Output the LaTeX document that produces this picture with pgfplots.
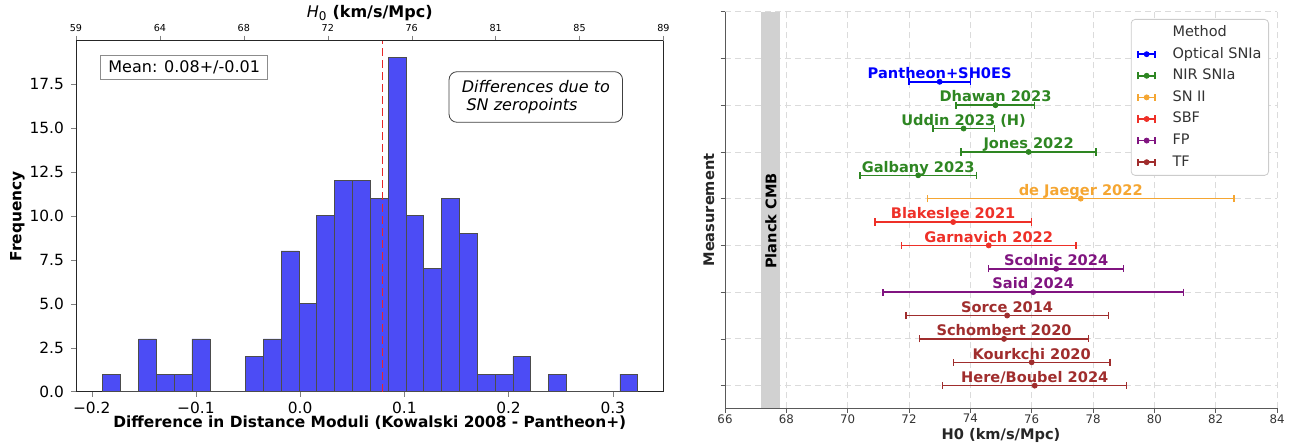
\documentclass[border=0pt]{standalone}
\usepackage{fontspec}
\setmainfont{DejaVu Sans}
\usepackage{pgfplots}
\pgfplotsset{compat=1.18}

\definecolor{histblue}{RGB}{76,76,245}
\definecolor{meanred}{RGB}{232,40,40}
\definecolor{cOpt}{RGB}{0,0,255}
\definecolor{cNIR}{RGB}{46,134,34}
\definecolor{cII}{RGB}{245,166,50}
\definecolor{cSBF}{RGB}{238,48,40}
\definecolor{cFP}{RGB}{128,20,128}
\definecolor{cTF}{RGB}{160,45,45}

\newcommand{\errleg}[1]{%
  \draw[#1, line width=0.75pt] (1pt,0pt) -- (9.5pt,0pt) (1pt,-1.8pt) -- (1pt,1.8pt) (9.5pt,-1.8pt) -- (9.5pt,1.8pt);
  \fill[#1] (5.25pt,0pt) circle (1.25pt);
  \path (17pt,0pt);}

\pgfplotsset{
  grp/.style={color=#1, only marks, mark=*, mark size=1.25pt, forget plot,
    error bars/.cd, x dir=both, x explicit, error mark=|,
      error bar style={line width=0.75pt, #1},
      error mark options={line width=0.75pt, mark size=1.8pt, #1},
    /pgfplots/.cd,
    nodes near coords, point meta=explicit symbolic,
    every node near coord/.append style={anchor=base, yshift=1.6pt,
      font=\bfseries\fontsize{7.3}{8}\selectfont, text=#1}},
}

\begin{document}
\begin{tikzpicture}
\useasboundingbox (0pt,0pt) rectangle (645.5pt,222pt);

% ---------------- left: histogram ----------------
\begin{axis}[
  at={(38pt,26.15pt)}, anchor=south west, scale only axis,
  width=293.75pt, height=175.5pt,
  xmin=-0.2151, xmax=0.3487, ymin=0, ymax=19.95,
  xtick={-0.2,-0.1,0,0.1,0.2,0.3},
  xticklabels={−0.2,−0.1,0.0,0.1,0.2,0.3},
  ytick={0,2.5,5,7.5,10,12.5,15,17.5},
  yticklabels={0.0,2.5,5.0,7.5,10.0,12.5,15.0,17.5},
  xtick pos=bottom, ytick pos=left, tick align=outside,
  major tick length=2.5pt,
  ticklabel style={font=\fontsize{7.7}{9}\selectfont},
  xticklabel style={inner sep=0pt, yshift=-2.6pt},
  axis line style={black!85},
  xlabel={\bfseries Difference in Distance Moduli (Kowalski 2008 - Pantheon+)},
  ylabel={\bfseries Frequency},
  label style={font=\fontsize{7.7}{9}\selectfont},
  xlabel style={at={(axis description cs:0.5,-0.103)}, anchor=base},
  ylabel style={at={(axis description cs:-0.0996,0.5)}, anchor=center},
]
\addplot[ybar interval, fill=histblue, draw=black!70, line width=0.4pt] coordinates {
  (-0.1893,1) (-0.1722,0) (-0.1551,3) (-0.1380,1) (-0.1209,1) (-0.1038,3)
  (-0.0866,0) (-0.0695,0) (-0.0524,2) (-0.0353,3) (-0.0182,8) (-0.0011,5)
  (0.0160,10) (0.0331,12) (0.0502,12) (0.0673,11) (0.0845,19) (0.1016,10)
  (0.1187,7) (0.1358,11) (0.1529,9) (0.1700,1) (0.1871,1) (0.2042,2)
  (0.2213,0) (0.2385,1) (0.2556,0) (0.2727,0) (0.2898,0) (0.3069,1)
  (0.3240,1)
};
\addplot[meanred, line width=0.8pt, dash pattern=on 4pt off 2pt] coordinates {(0.0789,0) (0.0789,19.95)};
\end{axis}

% top axis: H0 scale
\begin{axis}[
  at={(38pt,26.15pt)}, anchor=south west, scale only axis,
  width=293.75pt, height=175.5pt,
  xmin=0, xmax=7, ymin=0, ymax=1,
  axis x line*=top, axis y line=none, axis line style={-, black!85},
  xtick={0,1,2,3,4,5,6,7},
  xticklabels={59,64,68,72,76,81,85,89},
  tick align=outside, major tick length=2.5pt,
  ticklabel style={font=\fontsize{4.8}{5.5}\selectfont},
  xticklabel style={inner sep=0pt, yshift=1.8pt},
  xlabel={{\itshape H}\textsubscript{0} \textbf{(km/s/Mpc)}},
  xlabel style={font=\fontsize{8}{9}\selectfont, at={(axis description cs:0.5,1.066)}, anchor=base},
]
\end{axis}

\node[draw=black!45, fill=white, inner sep=0pt, minimum width=83.5pt, minimum height=12pt,
      font=\fontsize{8}{9}\selectfont] at (92.1pt,188.5pt) {Mean: 0.08+/-0.01};
\node[draw=black!75, rounded corners=4pt, fill=white, inner sep=0pt, minimum width=86.75pt,
      minimum height=25.3pt, align=left, font=\itshape\fontsize{8}{8.7}\selectfont]
      at (267.9pt,173.5pt) {Differences due to\\\hspace*{2.4pt}SN zeropoints};

% ---------------- right: H0 measurements ----------------
\begin{axis}[
  at={(362.5pt,17.85pt)}, anchor=south west, scale only axis,
  width=276pt, height=198.3pt,
  xmin=66, xmax=84, ymin=-0.97, ymax=16,
  axis x line*=bottom, axis y line*=left, axis line style={-, black!65},
  xtick={66,68,...,84}, ytick={0,2,...,16}, yticklabels={},
  tick align=outside, major tick length=2.2pt, tick style={black!65},
  grid=major, major grid style={densely dashed, black!14, line width=0.4pt},
  ticklabel style={font=\fontsize{5.9}{7}\selectfont, text=black!80},
  xticklabel style={inner sep=0pt, yshift=-0.6pt},
  /pgf/number format/assume math mode=true,
  xlabel={\bfseries H0 (km/s/Mpc)}, ylabel={\bfseries Measurement},
  label style={font=\fontsize{7.3}{8.5}\selectfont, text=black!85},
  xlabel style={at={(axis description cs:0.5,-0.079)}, anchor=base},
  ylabel style={at={(axis description cs:-0.029,0.5)}, anchor=center},
  clip=false,
  legend style={at={(0.9855,0.9816)}, anchor=north east,
    font=\fontsize{7.25}{8}\selectfont, text=black!80,
    draw=black!20, rounded corners=2pt, fill=white,
    inner xsep=2.5pt, inner ysep=2pt, row sep=1.6pt,
    nodes={inner sep=1pt, text height=5.6pt, text depth=1.6pt},
    cells={anchor=west}},
]
\addplot[fill=black!18, draw=none, forget plot] coordinates {
  (67.18,-0.97) (67.79,-0.97) (67.79,16) (67.18,16)} -- cycle;
\node[rotate=90, font=\bfseries\fontsize{7.3}{8}\selectfont] at (axis cs:67.5,7.05) {Planck CMB};

\addlegendimage{empty legend}\addlegendentry{Method}
\addlegendimage{legend image code/.code={\errleg{cOpt}}}\addlegendentry{Optical SNIa}
\addlegendimage{legend image code/.code={\errleg{cNIR}}}\addlegendentry{NIR SNIa}
\addlegendimage{legend image code/.code={\errleg{cII}}}\addlegendentry{SN II}
\addlegendimage{legend image code/.code={\errleg{cSBF}}}\addlegendentry{SBF}
\addlegendimage{legend image code/.code={\errleg{cFP}}}\addlegendentry{FP}
\addlegendimage{legend image code/.code={\errleg{cTF}}}\addlegendentry{TF}

\addplot[grp=cOpt] table[col sep=comma, row sep=\\, x=x, y=y, x error=e, meta=lab] {
x,y,e,lab\\
73.0,13,1.0,Pantheon+SH0ES\\
};
\addplot[grp=cNIR] table[col sep=comma, row sep=\\, x=x, y=y, x error=e, meta=lab] {
x,y,e,lab\\
74.82,12,1.28,Dhawan 2023\\
73.78,11,1.0,Uddin 2023 (H)\\
75.9,10,2.2,Jones 2022\\
72.3,9,1.9,Galbany 2023\\
};
\addplot[grp=cII] table[col sep=comma, row sep=\\, x=x, y=y, x error=e, meta=lab] {
x,y,e,lab\\
77.6,8,5.0,de Jaeger 2022\\
};
\addplot[grp=cSBF] table[col sep=comma, row sep=\\, x=x, y=y, x error=e, meta=lab] {
x,y,e,lab\\
73.44,7,2.55,Blakeslee 2021\\
74.6,6,2.85,Garnavich 2022\\
};
\addplot[grp=cFP] table[col sep=comma, row sep=\\, x=x, y=y, x error=e, meta=lab] {
x,y,e,lab\\
76.8,5,2.2,Scolnic 2024\\
76.05,4,4.9,Said 2024\\
};
\addplot[grp=cTF] table[col sep=comma, row sep=\\, x=x, y=y, x error=e, meta=lab] {
x,y,e,lab\\
75.2,3,3.3,Sorce 2014\\
75.1,2,2.76,Schombert 2020\\
76.0,1,2.55,Kourkchi 2020\\
76.1,0,3.0,Here/Boubel 2024\\
};
\end{axis}
\end{tikzpicture}
\end{document}
